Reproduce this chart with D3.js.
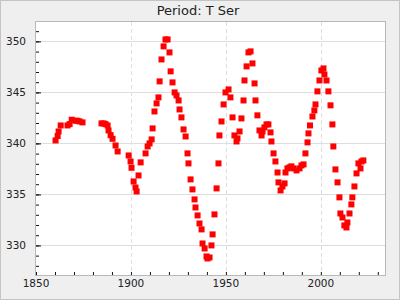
<!DOCTYPE html>
<html>
<head>
<meta charset="UTF-8">
<title>Period: T Ser</title>
<style>
  body { margin: 0; background: #efefef; }
  svg { display: block; font-family: 'DejaVu Sans', sans-serif; }
</style>
</head>
<body>
<div id="chart"></div>
<script src="https://cdnjs.cloudflare.com/ajax/libs/d3/7.8.5/d3.min.js"></script>
<script>
const years = [
  1860.3, 1861.4, 1861.9, 1863.0, 1866.6, 1867.7, 1868.8, 1870.9, 1871.9, 1873.0, 1874.5,
  1884.5, 1885.6, 1886.6, 1887.7, 1888.2, 1889.3, 1890.3, 1891.9, 1893.0,
  1898.8, 1899.8, 1900.3, 1901.4, 1902.4, 1903.0, 1904.0, 1905.1, 1907.7, 1908.8, 1909.8,
  1910.9, 1911.4, 1912.4, 1913.5, 1914.5, 1915.1, 1916.1, 1917.2, 1918.2, 1919.3,
  1920.3, 1920.9, 1921.9, 1923.0, 1924.0, 1925.1, 1925.6, 1926.6, 1927.7, 1928.8,
  1929.8, 1930.3, 1931.4, 1932.4, 1933.5, 1934.0, 1935.1, 1936.1, 1937.2, 1937.7,
  1938.8, 1939.8, 1940.3, 1941.4, 1942.4, 1943.0, 1944.0, 1945.1, 1946.1, 1946.6,
  1947.7, 1948.8, 1949.8, 1951.4, 1952.4, 1953.5, 1954.5, 1955.6, 1956.1, 1957.2,
  1958.2, 1959.3, 1959.8, 1960.9, 1961.9, 1963.0, 1964.0, 1965.1, 1965.6, 1966.6,
  1967.7, 1968.8, 1969.3, 1970.3, 1971.4, 1972.4, 1973.5, 1974.0, 1975.1, 1976.1,
  1977.2, 1977.7, 1978.8, 1979.8, 1980.9, 1981.4, 1982.4, 1983.5, 1984.5, 1985.6,
  1987.2, 1988.8, 1989.8, 1990.9, 1991.9, 1993.0, 1993.5, 1994.3, 1995.6, 1996.6,
  1997.2, 1998.2, 1999.3, 2000.3, 2001.4, 2001.9, 2003.0, 2004.0, 2005.1, 2006.1,
  2006.6, 2007.7, 2008.8, 2009.8, 2010.3, 2011.4, 2012.4, 2013.5, 2014.0, 2015.1,
  2016.1, 2016.6, 2017.7, 2018.8, 2019.8, 2020.9, 2021.4, 2022.4
];
const values = [
  340.29, 340.72, 341.17, 341.76, 341.76, 341.89, 342.32, 342.22, 342.22, 342.15, 342.06,
  341.96, 341.96, 341.89, 341.76, 341.27, 340.81, 340.45, 339.80, 339.21,
  338.82, 338.23, 337.61, 336.27, 335.68, 335.29, 336.86, 338.14, 339.02, 339.70, 340.00,
  340.39, 341.47, 343.13, 343.92, 344.51, 346.08, 348.23, 349.51, 350.19, 350.19,
  348.92, 347.06, 345.98, 345.00, 344.70, 344.21, 343.33, 342.55, 341.37, 340.68,
  339.02, 338.04, 336.47, 335.49, 334.51, 333.72, 332.94, 332.15, 331.57, 330.19,
  329.70, 328.92, 328.72, 328.82, 330.00, 331.08, 333.04, 335.59, 338.04, 340.78,
  342.15, 343.82, 345.00, 345.29, 344.51, 342.55, 340.78, 340.19, 340.49, 341.17,
  342.45, 344.21, 346.17, 347.55, 348.92, 349.02, 347.84, 345.88, 344.21, 342.75,
  341.27, 340.78, 341.17, 341.57, 341.86, 341.86, 341.08, 340.19, 339.02, 338.23,
  337.15, 336.18, 335.39, 335.78, 336.08, 337.15, 337.55, 337.65, 337.75, 337.55,
  337.35, 337.55, 337.84, 337.94, 339.02, 340.10, 340.98, 341.76, 342.64, 343.23,
  343.82, 345.10, 346.17, 347.15, 347.35, 346.76, 346.17, 345.10, 343.73, 341.86,
  339.70, 337.45, 336.18, 334.71, 333.13, 332.74, 331.96, 331.76, 332.25, 333.13,
  334.02, 334.71, 335.78, 337.06, 338.04, 337.55, 338.23, 338.33
];
const xTicks = [1850, 1900, 1950, 2000];
const yTicks = [330, 335, 340, 345, 350];
const titleText = "Period: T Ser";

const W = 400, H = 300;
const margin = { top: 22, right: 15, bottom: 25, left: 36 };
const iw = W - margin.left - margin.right;
const ih = H - margin.top - margin.bottom;

const svg = d3.select("#chart").append("svg")
  .attr("width", W).attr("height", H);

// outer frame
svg.append("rect")
  .attr("x", 0.5).attr("y", 0.5).attr("width", W - 1).attr("height", H - 1)
  .attr("fill", "#efefef").attr("stroke", "#c4c4c4");

svg.append("text")
  .attr("x", 198).attr("y", 15)
  .attr("text-anchor", "middle")
  .style("font-size", "13px")
  .attr("fill", "#222")
  .text(titleText);

const g = svg.append("g").attr("transform", `translate(${margin.left},${margin.top})`);

const x = d3.scaleLinear().domain([1850, 2033.8]).range([0, iw]);
const y = d3.scaleLinear().domain([327.1, 351.9]).range([ih, 0]);

g.append("rect").attr("width", iw).attr("height", ih).attr("fill", "white");

// grid
g.append("g").selectAll("line").data(yTicks).join("line")
  .attr("x1", 0).attr("x2", iw)
  .attr("y1", d => Math.round(y(d)) + 0.5).attr("y2", d => Math.round(y(d)) + 0.5)
  .attr("stroke", "#dedede");
g.append("g").selectAll("line").data(xTicks.slice(1)).join("line")
  .attr("y1", 0).attr("y2", ih)
  .attr("x1", d => Math.round(x(d)) + 0.5).attr("x2", d => Math.round(x(d)) + 0.5)
  .attr("stroke", "#dedede").attr("stroke-dasharray", "4,3");

// axes with inward ticks
const xAxis = g.append("g").attr("transform", `translate(0,${ih})`)
  .call(d3.axisTop(x).tickValues(d3.range(1850, 2031, 10)).tickSize(3).tickFormat(""));
const yAxis = g.append("g")
  .call(d3.axisRight(y).tickValues(d3.range(328, 352, 1)).tickSize(3).tickFormat(""));
g.append("g").call(d3.axisRight(y).tickValues(yTicks).tickSize(5).tickFormat(""));
[xAxis, yAxis].forEach(a => a.select(".domain").remove());
g.selectAll(".tick line").attr("stroke", "#111");
g.selectAll(".domain").remove();

g.append("g").selectAll("text").data(xTicks).join("text")
  .attr("x", d => x(d)).attr("y", ih + 12)
  .attr("text-anchor", "middle")
  .style("font-size", "10.5px").attr("fill", "#222")
  .text(d => d);
g.append("g").selectAll("text").data(yTicks).join("text")
  .attr("x", -10).attr("y", d => y(d) + 4)
  .attr("text-anchor", "end")
  .style("font-size", "10.5px").attr("fill", "#222")
  .text(d => d);

// points
const s = 6;
g.append("g").selectAll("rect").data(years).join("rect")
  .attr("x", (d) => x(d) - s / 2)
  .attr("y", (d, i) => y(values[i]) - s / 2)
  .attr("width", s).attr("height", s)
  .attr("fill", "#ff0000");

g.append("rect").attr("x", -0.5).attr("y", -0.5).attr("width", iw + 1).attr("height", ih + 1)
  .attr("fill", "none").attr("stroke", "#b8b8b8");
</script>
</body>
</html>
